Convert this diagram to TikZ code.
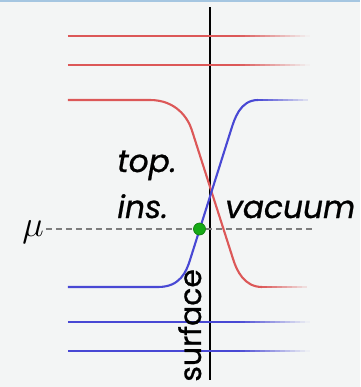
\documentclass[tikz,border=0pt]{standalone}
\usepackage{fontspec}
\newfontfamily\labelfont{Poppins}[FakeBold=0.8]
\definecolor{bandred}{RGB}{220,88,88}
\definecolor{bandblue}{RGB}{72,72,212}
\definecolor{paper}{RGB}{243,245,245}
\definecolor{rimblue}{RGB}{165,198,225}
\definecolor{muline}{RGB}{125,125,125}
\definecolor{dotgreen}{RGB}{22,170,22}

\begin{document}
\begin{tikzpicture}[x=0.02cm,y=-0.02cm,
  lbl/.style={font=\fontsize{17.8}{19}\selectfont\labelfont\itshape, inner sep=0pt, anchor=base west},
  level/.style={line width=1.5pt},
  band/.style={line width=1.2pt}]
  \useasboundingbox (0,0) rectangle (360,387);
  \fill[paper] (0,0) rectangle (360,387);
  \fill[rimblue] (0,0) rectangle (360,2);
  \draw[line width=1.3pt] (210,7) -- (210,380);
  \foreach \y/\c in {36/bandred,65/bandred,322/bandblue,351/bandblue}{
    \draw[\c, level] (68,\y) -- (240,\y);
    \foreach \i in {0,...,13}{
      \pgfmathtruncatemacro\p{95-7*\i}
      \draw[\c!\p!paper, level] (240+5*\i,\y) -- (245+5*\i,\y);
    }
  }
  \draw[bandred, band] (68,100) -- (150,100) .. controls (176,100) and (188,118) .. (191.8,130)
    -- (233.4,260) .. controls (236.6,270) and (244,287) .. (262,287);
  \foreach \i in {0,...,8}{
    \pgfmathtruncatemacro\p{95-10*\i}
    \draw[bandred!\p!paper, band] (262+5*\i,287) -- (267+5*\i,287);
  }
  \draw[bandblue, band] (68,287) -- (158,287) .. controls (180,287) and (186.2,272) .. (190,260)
    -- (231,130) .. controls (234.5,119) and (240,100) .. (258,100);
  \foreach \i in {0,...,9}{
    \pgfmathtruncatemacro\p{95-9*\i}
    \draw[bandblue!\p!paper, band] (258+5*\i,100) -- (263+5*\i,100);
  }
  \node[font=\fontsize{21}{21}\selectfont, inner sep=0pt, anchor=base west] (mu) at (22,236) {$\mu$};
  \coordinate (level) at (315,229);
  \draw[muline, line width=0.7pt, dash pattern=on 3.5pt off 2.2pt] ([xshift=1pt]mu.east |- level) -- (level);
  \node[circle, fill=dotgreen, draw=dotgreen!75!black, line width=0.4pt, minimum size=0.24cm, inner sep=0pt] (dot) at (199.5,229) {};
  \node[lbl] (top) at (117,172) {top.};
  \node[lbl] (ins) at (117,218) {ins.};
  \node[lbl] (vac) at (225,218) {vacuum};
  \node[font=\fontsize{17}{18}\selectfont\labelfont, inner sep=0pt, anchor=base west, rotate=90] (surf) at (201,382) {surface};
\end{tikzpicture}
\end{document}
